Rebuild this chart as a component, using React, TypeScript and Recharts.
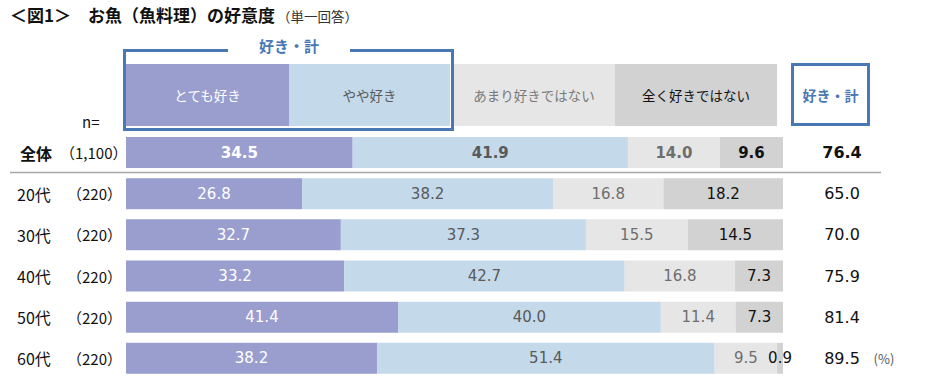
import React from 'react';
import { BarChart, Bar, XAxis, YAxis, LabelList } from 'recharts';

const categories = ['全体', '20代', '30代', '40代', '50代', '60代'];
const sampleSizes = ['（1,100）', '（220）', '（220）', '（220）', '（220）', '（220）'];
const veryLike = [34.5, 26.8, 32.7, 33.2, 41.4, 38.2];
const somewhatLike = [41.9, 38.2, 37.3, 42.7, 40.0, 51.4];
const notMuch = [14.0, 16.8, 15.5, 16.8, 11.4, 9.5];
const notAtAll = [9.6, 18.2, 14.5, 7.3, 7.3, 0.9];
const likeTotal = [76.4, 65.0, 70.0, 75.9, 81.4, 89.5];
const seriesNames = ['とても好き', 'やや好き', 'あまり好きではない', '全く好きではない'];
const seriesKeys = ['veryLike', 'somewhatLike', 'notMuch', 'notAtAll'];
const seriesColors = ['#9a9ecf', '#c4d9ea', '#e6e6e6', '#d2d2d2'];
const labelColors = ['#ffffff', '#595959', '#6e6e6e', '#111111'];
const legendTextColors = ['#ffffff', '#595959', '#7a7a7a', '#111111'];
const totalLabel = '好き・計';
const title = '＜図1＞　お魚（魚料理）の好意度';
const subtitle = '（単一回答）';

const FRAME = '#4a78b4';
const JP = '"Noto Sans CJK JP", "Noto Sans", sans-serif';
const NUM = '"DejaVu Sans", Verdana, sans-serif';

const data = categories.map((name, i) => ({
  name,
  n: sampleSizes[i],
  veryLike: veryLike[i],
  somewhatLike: somewhatLike[i],
  notMuch: notMuch[i],
  notAtAll: notAtAll[i],
  total: likeTotal[i],
}));

const makeLabel = (si: number) => (props: any) => {
  const { x, y, width, height, value, index } = props;
  const bold = index === 0;
  return (
    <text
      x={x + width / 2}
      y={y + height / 2}
      textAnchor="middle"
      dominantBaseline="central"
      fill={labelColors[si]}
      fontFamily={NUM}
      fontSize={15}
      fontWeight={bold ? 700 : 400}
    >
      {Number(value).toFixed(1)}
    </text>
  );
};

const LeftTick = (props: any) => {
  const { x, y, index } = props;
  const bold = index === 0;
  return (
    <g>
      <text
        x={x - (bold ? 106 : 109)}
        y={y}
        dominantBaseline="central"
        fontFamily={JP}
        fontSize={16}
        fontWeight={bold ? 700 : 400}
        fill="#111"
      >
        {categories[index]}
      </text>
      <text
        x={x - (bold ? 66 : 59)}
        y={y}
        dominantBaseline="central"
        fontFamily={JP}
        fontSize={15}
        fill="#111"
      >
        {sampleSizes[index]}
      </text>
      {index === 0 && (
        <line x1={x - 116} x2={x + 755} y1={y + 20} y2={y + 20} stroke="#a6a6a6" strokeWidth={1.5} />
      )}
    </g>
  );
};

const RightTick = (props: any) => {
  const { x, y, index } = props;
  const bold = index === 0;
  return (
    <g>
      <text
        x={x + 59}
        y={y}
        textAnchor="middle"
        dominantBaseline="central"
        fontFamily={NUM}
        fontSize={16}
        fontWeight={bold ? 700 : 400}
        fill="#111"
      >
        {likeTotal[index].toFixed(1)}
      </text>
      {index === categories.length - 1 && (
        <text
          x={x + 101}
          y={y}
          textAnchor="middle"
          dominantBaseline="central"
          fontFamily={JP}
          fontSize={13}
          fill="#555"
        >
          (%)
        </text>
      )}
    </g>
  );
};

const legendCells = [
  { left: 126, width: 163 },
  { left: 289, width: 161 },
  { left: 453, width: 162 },
  { left: 615, width: 162 },
];

export default function App() {
  return (
    <div
      style={{
        position: 'absolute',
        left: 0,
        top: 0,
        width: 934,
        height: 384,
        background: '#fff',
        fontFamily: JP,
        overflow: 'hidden',
      }}
    >
      <div style={{ position: 'absolute', left: 10, top: 3, whiteSpace: 'nowrap', lineHeight: '24px' }}>
        <span style={{ fontSize: 17, fontWeight: 700, color: '#111' }}>{title}</span>
        <span style={{ fontSize: 13.5, color: '#333', marginLeft: 2 }}>{subtitle}</span>
      </div>

      {legendCells.map((c, i) => (
        <div
          key={i}
          style={{
            position: 'absolute',
            left: c.left,
            top: 64,
            width: c.width,
            height: 62,
            background: seriesColors[i],
            color: legendTextColors[i],
            fontSize: 13.5,
            display: 'flex',
            alignItems: 'center',
            justifyContent: 'center',
          }}
        >
          {seriesNames[i]}
        </div>
      ))}

      <div
        style={{
          position: 'absolute',
          left: 123,
          top: 49,
          width: 331,
          height: 82,
          border: `3px solid ${FRAME}`,
          boxSizing: 'border-box',
        }}
      />
      <div
        style={{
          position: 'absolute',
          left: 228,
          top: 34,
          width: 122,
          height: 22,
          background: '#fff',
          color: FRAME,
          fontSize: 15,
          fontWeight: 700,
          display: 'flex',
          alignItems: 'center',
          justifyContent: 'center',
        }}
      >
        {totalLabel}
      </div>

      <div
        style={{
          position: 'absolute',
          left: 791,
          top: 63,
          width: 79,
          height: 63,
          border: `3px solid ${FRAME}`,
          boxSizing: 'border-box',
          color: FRAME,
          fontSize: 14,
          fontWeight: 700,
          display: 'flex',
          alignItems: 'center',
          justifyContent: 'center',
        }}
      >
        {totalLabel}
      </div>

      <div style={{ position: 'absolute', left: 82, top: 112, fontSize: 15, color: '#111', lineHeight: '20px' }}>n=</div>

      <div style={{ position: 'absolute', left: 0, top: 0 }}>
        <BarChart
          width={934}
          height={384}
          data={data}
          layout="vertical"
          margin={{ top: 132, right: 0, bottom: 5, left: 6 }}
          barSize={31}
        >
          <XAxis type="number" domain={[0, 100]} allowDataOverflow hide />
          <YAxis
            yAxisId="left"
            type="category"
            dataKey="name"
            width={120}
            axisLine={false}
            tickLine={false}
            tickSize={0}
            tickMargin={0}
            tick={<LeftTick />}
            interval={0}
          />
          <YAxis
            yAxisId="right"
            orientation="right"
            type="category"
            dataKey="name"
            width={151}
            axisLine={false}
            tickLine={false}
            tickSize={0}
            tickMargin={0}
            tick={<RightTick />}
            interval={0}
          />
          {seriesKeys.map((k, si) => (
            <Bar
              key={k}
              dataKey={k}
              name={seriesNames[si]}
              stackId="a"
              yAxisId="left"
              fill={seriesColors[si]}
              isAnimationActive={false}
            >
              <LabelList dataKey={k} content={makeLabel(si)} />
            </Bar>
          ))}
        </BarChart>
      </div>
    </div>
  );
}
